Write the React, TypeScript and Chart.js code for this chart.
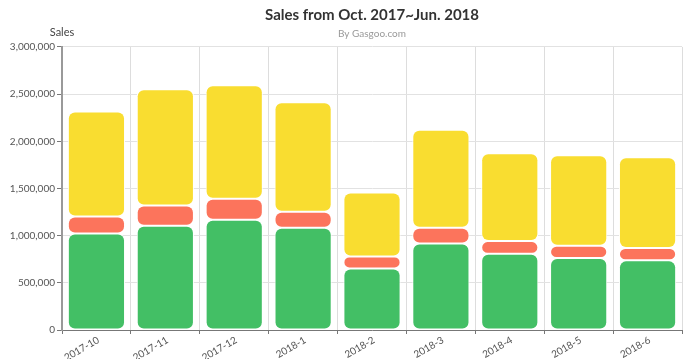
import React, { useEffect, useRef } from "react";
import { Chart, registerables } from "chart.js";

Chart.register(...registerables);

const categories = ["2017-10", "2017-11", "2017-12", "2018-1", "2018-2", "2018-3", "2018-4", "2018-5", "2018-6"];
const greenSeries = [1024000, 1106000, 1169000, 1084000, 653000, 918000, 809000, 762000, 738000];
const redSeries = [180000, 214000, 223000, 170000, 127000, 166000, 133000, 132000, 130000];
const yellowSeries = [1112000, 1232000, 1203000, 1160000, 678000, 1038000, 932000, 959000, 964000];
const titleText = "Sales from Oct. 2017~Jun. 2018";
const subtitleText = "By Gasgoo.com";
const yAxisTitle = "Sales";

const FONT = "Lato, 'DejaVu Sans', sans-serif";

const axisTitlePlugin = {
  id: "axisTitleTop",
  afterDraw(chart: any) {
    const { ctx, chartArea } = chart;
    ctx.save();
    ctx.font = `11px ${FONT}`;
    ctx.fillStyle = "#444";
    ctx.textAlign = "center";
    ctx.textBaseline = "middle";
    ctx.fillText(yAxisTitle, chartArea.left, chartArea.top - 14);
    ctx.restore();
  },
};

export default function App() {
  const ref = useRef<HTMLCanvasElement>(null);
  useEffect(() => {
    if (!ref.current) return;
    const common = {
      borderColor: "#ffffff",
      borderWidth: 1,
      borderRadius: { topLeft: 7, topRight: 7, bottomLeft: 7, bottomRight: 7 },
      borderSkipped: false,
      categoryPercentage: 0.83,
      barPercentage: 1,
    };
    const chart = new Chart(ref.current, {
      type: "bar",
      data: {
        labels: categories,
        datasets: [
          { label: "A", data: greenSeries, backgroundColor: "rgb(67,191,101)", ...common },
          { label: "B", data: redSeries, backgroundColor: "rgb(252,116,92)", ...common },
          { label: "C", data: yellowSeries, backgroundColor: "rgb(249,221,48)", ...common },
        ],
      },
      options: {
        animation: false,
        responsive: true,
        maintainAspectRatio: false,
        layout: { padding: { left: 0, right: 18, top: 0, bottom: 0 } },
        plugins: {
          legend: { display: false },
          tooltip: { enabled: false },
          title: {
            display: true,
            text: titleText,
            fullSize: false,
            color: "#333",
            font: { family: FONT, size: 15, weight: "bold", lineHeight: 1.33 },
            padding: { top: 5, bottom: 2 },
          },
          subtitle: {
            display: true,
            text: subtitleText,
            fullSize: false,
            color: "#999",
            font: { family: FONT, size: 10, lineHeight: 1.4 },
            padding: { top: 0, bottom: 6 },
          },
        },
        scales: {
          x: {
            stacked: true,
            grid: { color: "#dddddd", tickColor: "#777", tickLength: 4, offset: true },
            border: { display: true, color: "#777", width: 1 },
            ticks: {
              color: "#555",
              font: { family: FONT, size: 10 },
              minRotation: 30,
              maxRotation: 30,
              padding: 0,
              labelOffset: 2,
            },
            afterFit: (s: any) => {
              s.height = 29;
            },
          },
          y: {
            stacked: true,
            min: 0,
            max: 3000000,
            grid: { color: "#e2e2e2", tickColor: "#777", tickLength: 5 },
            border: { display: true, color: "#999", width: 2 },
            ticks: {
              stepSize: 500000,
              color: "#555",
              font: { family: FONT, size: 10 },
              padding: 2,
              callback: (v: any) => Number(v).toLocaleString("en-US"),
            },
            afterFit: (s: any) => {
              s.width = 62;
            },
          },
        },
      },
      plugins: [axisTitlePlugin],
    } as any);
    return () => chart.destroy();
  }, []);
  return (
    <div style={{ position: "absolute", left: 0, top: 0, width: 700, height: 359, background: "#fff" }}>
      <canvas ref={ref} />
    </div>
  );
}
